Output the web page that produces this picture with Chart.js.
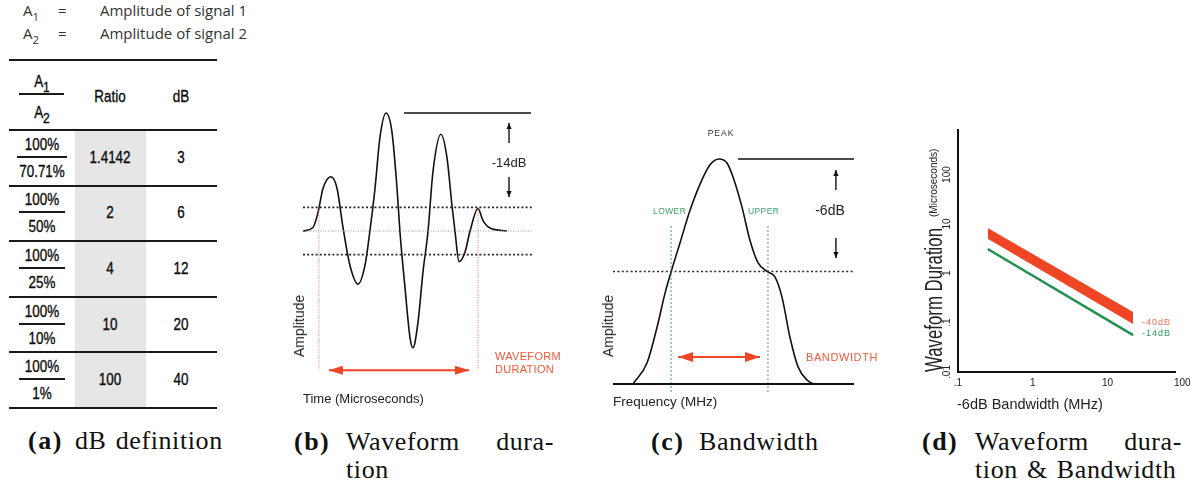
<!DOCTYPE html>
<html>
<head>
<meta charset="utf-8">
<title>dB definition, waveform duration and bandwidth</title>
<script src="https://cdn.jsdelivr.net/npm/chart.js"></script>
<style>
  html, body { margin: 0; padding: 0; background: #fff; }
  #page { position: relative; width: 1199px; height: 486px; overflow: hidden; color: #222;
          font-family: "Liberation Sans", Arial, Helvetica, sans-serif; }
  #page canvas { position: absolute; z-index: 1; }
  .lbl { position: absolute; white-space: nowrap; line-height: 1; z-index: 2; transform: translate(-50%, -50%); }
  .rule { position: absolute; background: #1a1a1a; z-index: 1; }
  .shade { position: absolute; background: #e6e6e6; z-index: 0; }
  .legend { position: absolute; font-family: "Open Sans", sans-serif; font-size: 15px; color: #333;
            line-height: 1; white-space: nowrap; }
  sub { line-height: 0; vertical-align: -5px; font-size: 0.75em; }
  .cap { position: absolute; font-family: "Liberation Serif", "DejaVu Serif", serif; font-size: 26px;
         letter-spacing: 0.6px; word-spacing: 2px; color: #111; line-height: 1; white-space: nowrap; }
  .cap b { display: inline-block; letter-spacing: 1.5px; }
</style>
</head>
<body>
<div id="page">
  <div class="legend" style="left:23px;top:3px">A<sub>1</sub></div>
  <div class="legend" style="left:58px;top:3px">=</div>
  <div class="legend" style="left:100px;top:3px">Amplitude of signal 1</div>
  <div class="legend" style="left:23px;top:26px">A<sub>2</sub></div>
  <div class="legend" style="left:58px;top:26px">=</div>
  <div class="legend" style="left:100px;top:26px">Amplitude of signal 2</div>

  <canvas id="chartB" width="260" height="310" style="left:280px;top:100px;width:260px;height:310px"></canvas>
  <canvas id="chartC" width="290" height="290" style="left:590px;top:120px;width:290px;height:290px"></canvas>
  <canvas id="chartD" width="299" height="300" style="left:900px;top:120px;width:299px;height:300px"></canvas>

  <div class="cap" style="left:28px;top:428px"><b style="width:47px">(a)</b>dB definition</div>
  <div class="cap" style="left:294px;top:429px;width:260px;display:flex;justify-content:space-between">
    <span><b style="width:52px">(b)</b>Waveform</span><span>dura-</span></div>
  <div class="cap" style="left:346px;top:457px">tion</div>
  <div class="cap" style="left:651px;top:429px"><b style="width:48px">(c)</b>Bandwidth</div>
  <div class="cap" style="left:922px;top:429px;width:260px;display:flex;justify-content:space-between">
    <span><b style="width:53px">(d)</b>Waveform</span><span>dura-</span></div>
  <div class="cap" style="left:975px;top:457px">tion &amp; Bandwidth</div>
</div>

<script>
// (a) dB table
const dbNumerators = ["100%", "100%", "100%", "100%", "100%"];
const dbDenominators = ["70.71%", "50%", "25%", "10%", "1%"];
const dbRatios = ["1.4142", "2", "4", "10", "100"];
const dbValues = ["3", "6", "12", "20", "40"];

// (b) waveform, time in microseconds (relative), amplitude relative to the peak
const waveTime = [0, 0.49, 0.74, 0.98, 1.37, 1.67, 1.96, 2.30, 2.70, 3.04, 3.28, 3.53, 3.77, 4.07,
                  4.36, 4.61, 4.75, 5.00, 5.25, 5.39, 5.64, 5.88, 6.13, 6.37, 6.76, 7.06, 7.30, 7.45,
                  7.65, 7.94, 8.19, 8.58, 8.82, 9.17, 10];
const waveAmplitude = [0, 0.03, 0.16, 0.36, 0.46, 0.36, 0.03, -0.29, -0.45, -0.29, 0, 0.36, 0.79, 1.0,
                       0.84, 0.36, 0, -0.48, -0.91, -0.99, -0.77, -0.35, 0, 0.5, 0.82, 0.62, 0.22, 0,
                       -0.26, -0.18, 0, 0.19, 0.09, 0.025, 0];
const waveDbLevel = 0.2;               // -14 dB below the peak
const waveDurationBounds = [0.78, 8.58];

// (c) spectrum, frequency in MHz (relative), amplitude relative to the peak
const spectrumFreq = [0.83, 1.41, 1.83, 2.16, 2.41, 2.78, 3.20, 3.63, 4.02, 4.40, 4.73, 4.98, 5.35,
                      5.68, 6.02, 6.43, 6.72, 7.01, 7.34, 7.68, 8.05, 8.30];
const spectrumAmp = [0, 0.093, 0.253, 0.404, 0.498, 0.627, 0.773, 0.893, 0.973, 1.0, 0.982, 0.92, 0.787,
                     0.64, 0.538, 0.498, 0.476, 0.387, 0.209, 0.076, 0.018, 0];
const spectrumDbLevel = 0.5;           // -6 dB below the peak
const spectrumBandEdges = [2.41, 6.43];

// (d) waveform duration vs -6dB bandwidth
const bandwidthMHz = [0.25, 22];
const duration40dbUpper = [8.3, 0.165];
const duration40dbLower = [5.0, 0.094];
const duration14db = [3.1, 0.056];
const xTickValues = [0.1, 1, 10, 100];
const yTickValues = [0.01, 0.1, 1, 10, 100];

const RED = '#ee4524';
const GREEN = '#1f9150';

const page = document.getElementById('page');
function add(cls, css, html) {
  const el = document.createElement('div');
  el.className = cls;
  Object.assign(el.style, css);
  if (html != null) el.innerHTML = html;
  page.appendChild(el);
  return el;
}
function rule(x1, x2, y, w) {
  add('rule', { left: x1 + 'px', top: (y - w / 2) + 'px', width: (x2 - x1) + 'px', height: w + 'px' });
}
function text(str, cx, cy, css) {
  return add('lbl', Object.assign({ left: cx + 'px', top: cy + 'px' }, css || {}), str);
}

// ---- table (a)
const cellFont = { fontSize: '16px', color: '#0d0d0d', webkitTextStroke: '0.35px #0d0d0d',
                   transform: 'translate(-50%,-50%) scaleX(0.84)' };
const rowEdges = [130, 185.6, 241.2, 296.8, 352.4, 408];
add('shade', { left: '75px', top: '130px', width: '71px', height: '278px' });
rule(9, 217, 60, 2);
rule(9, 217, 130, 2);
text('A<sub style="font-size:0.9em">1</sub>', 42, 82, cellFont);
rule(19, 64, 94, 2);
text('A<sub style="font-size:0.9em">2</sub>', 42, 113, cellFont);
text('Ratio', 110, 97, cellFont);
text('dB', 181, 97, cellFont);
dbRatios.forEach((r, i) => {
  const c = (rowEdges[i] + rowEdges[i + 1]) / 2;
  const half = dbDenominators[i].length > 4 ? 25 : 23;
  text(dbNumerators[i], 42, c - 13, cellFont);
  rule(42 - half, 42 + half, c - 1, 2);
  text(dbDenominators[i], 42, c + 14, cellFont);
  text(r, 110, c, cellFont);
  text(dbValues[i], 181, c, cellFont);
  rule(9, 217, rowEdges[i + 1], 2);
});

// ---- labels of (b) and (c)
const redLbl = { color: '#f0583a', fontSize: '11px', letterSpacing: '0.3px', transform: 'translate(0,-50%)' };
text('-14dB', 509, 162, { fontSize: '13px' });
text('Amplitude', 299, 326, { fontSize: '14px', transform: 'translate(-50%,-50%) rotate(-90deg)' });
text('Time (Microseconds)', 303, 398, { fontSize: '13px', transform: 'translate(0,-50%)' });
text('WAVEFORM', 495, 356, redLbl);
text('DURATION', 495, 369, redLbl);

const greenLbl = { color: '#3a9f6a', fontSize: '8.5px', letterSpacing: '0.4px', transform: 'translate(0,-50%)' };
text('PEAK', 721, 133, { fontSize: '8.5px', letterSpacing: '1px', color: '#333' });
text('LOWER', 653, 211, greenLbl);
text('UPPER', 748, 211, greenLbl);
text('-6dB', 830, 210, { fontSize: '14px' });
text('BANDWIDTH', 806, 357, Object.assign({}, redLbl, { letterSpacing: '0.6px' }));
text('Amplitude', 608, 326, { fontSize: '14px', transform: 'translate(-50%,-50%) rotate(-90deg)' });
text('Frequency (MHz)', 613, 402, { fontSize: '13.5px', transform: 'translate(0,-50%)' });

// ---- chart helpers
const pts = (xs, ys) => xs.map((v, i) => ({ x: v, y: ys[i] }));
const seg = (x1, y1, x2, y2) => [{ x: x1, y: y1 }, { x: x2, y: y2 }];

function head(ctx, x, y, ux, uy, len, half, color) {
  ctx.fillStyle = color;
  ctx.beginPath();
  ctx.moveTo(x, y);
  ctx.lineTo(x - ux * len - uy * half, y - uy * len + ux * half);
  ctx.lineTo(x - ux * len + uy * half, y - uy * len - ux * half);
  ctx.closePath();
  ctx.fill();
}

function arrowHeads(items) {
  return {
    id: 'arrowHeads',
    afterDatasetsDraw(chart) {
      const { ctx, scales: { x, y } } = chart;
      ctx.save();
      items.forEach(a => {
        const x1 = x.getPixelForValue(a.from[0]), y1 = y.getPixelForValue(a.from[1]);
        const x2 = x.getPixelForValue(a.to[0]), y2 = y.getPixelForValue(a.to[1]);
        const d = Math.hypot(x2 - x1, y2 - y1);
        const ux = (x2 - x1) / d, uy = (y2 - y1) / d;
        head(ctx, x2, y2, ux, uy, a.len, a.half, a.color);
        if (a.both) head(ctx, x1, y1, -ux, -uy, a.len, a.half, a.color);
      });
      ctx.restore();
    }
  };
}

function plainOptions(xr, yr) {
  return {
    responsive: false,
    animation: false,
    events: [],
    layout: { padding: 0 },
    plugins: { legend: { display: false }, tooltip: { enabled: false } },
    elements: { point: { radius: 0 }, line: { tension: 0, fill: false, borderCapStyle: 'butt' } },
    scales: {
      x: { type: 'linear', min: xr[0], max: xr[1], display: false },
      y: { type: 'linear', min: yr[0], max: yr[1], display: false }
    }
  };
}

// ---- (b) waveform duration
const waveAxisEnd = 11.27;
const waveArrowLevel = -1.18;
const dbArrowX = 10.1;
new Chart(document.getElementById('chartB'), {
  type: 'line',
  data: {
    datasets: [
      { data: seg(0, 0, waveAxisEnd, 0), borderColor: '#9a9a9a', borderWidth: 1, borderDash: [1, 1.5] },
      { data: seg(0, waveDbLevel, waveAxisEnd, waveDbLevel), borderColor: '#2a2a2a', borderWidth: 1.6, borderDash: [2, 2.2] },
      { data: seg(0, -waveDbLevel, waveAxisEnd, -waveDbLevel), borderColor: '#2a2a2a', borderWidth: 1.6, borderDash: [2, 2.2] },
      { data: seg(4.95, 1, 11.18, 1), borderColor: '#111', borderWidth: 1.6 },
      { data: seg(waveDurationBounds[0], waveDbLevel, waveDurationBounds[0], waveArrowLevel), borderColor: '#f06a50', borderWidth: 1, borderDash: [1, 1.5] },
      { data: seg(waveDurationBounds[1], waveDbLevel, waveDurationBounds[1], waveArrowLevel), borderColor: '#f06a50', borderWidth: 1, borderDash: [1, 1.5] },
      { data: seg(1.27, waveArrowLevel, 8.14, waveArrowLevel), borderColor: RED, borderWidth: 2 },
      { data: seg(dbArrowX, 0.746, dbArrowX, 0.915), borderColor: '#111', borderWidth: 1.4 },
      { data: seg(dbArrowX, 0.458, dbArrowX, 0.288), borderColor: '#111', borderWidth: 1.4 },
      { data: pts(waveTime, waveAmplitude), borderColor: '#111', borderWidth: 1.6, cubicInterpolationMode: 'monotone' }
    ]
  },
  options: plainOptions([-1.127, 11.618], [-1.517, 1.110]),
  plugins: [arrowHeads([
    { from: [1.27, waveArrowLevel], to: [8.14, waveArrowLevel], both: true, len: 14, half: 4.5, color: RED },
    { from: [dbArrowX, 0.746], to: [dbArrowX, 0.915], len: 6, half: 2.6, color: '#111' },
    { from: [dbArrowX, 0.458], to: [dbArrowX, 0.288], len: 6, half: 2.6, color: '#111' }
  ])]
});

// ---- (c) bandwidth
const freqAxisEnd = 10;
const bandArrowLevel = 0.12;
const dbArrowF = 9.25;
new Chart(document.getElementById('chartC'), {
  type: 'line',
  data: {
    datasets: [
      { data: seg(0, 0, freqAxisEnd, 0), borderColor: '#111', borderWidth: 2 },
      { data: seg(0, spectrumDbLevel, 9.96, spectrumDbLevel), borderColor: '#2a2a2a', borderWidth: 1.6, borderDash: [2, 2.4] },
      { data: seg(5.19, 1, freqAxisEnd, 1), borderColor: '#111', borderWidth: 1.6 },
      { data: seg(spectrumBandEdges[0], 0.702, spectrumBandEdges[0], -0.036), borderColor: '#3aa56a', borderWidth: 1, borderDash: [2, 2] },
      { data: seg(spectrumBandEdges[1], 0.702, spectrumBandEdges[1], -0.036), borderColor: '#3aa56a', borderWidth: 1, borderDash: [2, 2] },
      { data: seg(2.7, bandArrowLevel, 6.1, bandArrowLevel), borderColor: RED, borderWidth: 2 },
      { data: seg(dbArrowF, 0.862, dbArrowF, 0.951), borderColor: '#111', borderWidth: 1.4 },
      { data: seg(dbArrowF, 0.649, dbArrowF, 0.56), borderColor: '#111', borderWidth: 1.4 },
      { data: pts(spectrumFreq, spectrumAmp), borderColor: '#111', borderWidth: 1.6, cubicInterpolationMode: 'monotone' }
    ]
  },
  options: plainOptions([-0.954, 11.079], [-0.1156, 1.1733]),
  plugins: [arrowHeads([
    { from: [2.7, bandArrowLevel], to: [6.1, bandArrowLevel], both: true, len: 15, half: 5, color: RED },
    { from: [dbArrowF, 0.862], to: [dbArrowF, 0.951], len: 6, half: 2.6, color: '#111' },
    { from: [dbArrowF, 0.649], to: [dbArrowF, 0.56], len: 6, half: 2.6, color: '#111' }
  ])]
});

// ---- (d) waveform duration & bandwidth
const tickLabel = v => String(v).replace(/^0\./, '.');
const durationLabels = {
  id: 'durationLabels',
  afterDraw(chart) {
    const { ctx, chartArea, scales: { x, y } } = chart;
    ctx.save();
    ctx.fillStyle = '#222';
    ctx.textBaseline = 'middle';
    ctx.textAlign = 'center';
    ctx.font = '10px "Liberation Sans", Arial, sans-serif';
    xTickValues.forEach(v => ctx.fillText(tickLabel(v), x.getPixelForValue(v), chartArea.bottom + 11));
    yTickValues.forEach(v => {
      ctx.save();
      ctx.translate(chartArea.left - 10.5, y.getPixelForValue(v));
      ctx.rotate(-Math.PI / 2);
      ctx.fillText(tickLabel(v), 0, 0);
      ctx.restore();
    });

    ctx.textAlign = 'left';
    ctx.font = '14.5px "Liberation Sans", Arial, sans-serif';
    ctx.fillText('-6dB Bandwidth (MHz)', chartArea.left - 1, chartArea.bottom + 33);

    ctx.textBaseline = 'alphabetic';
    ctx.font = '23px "Liberation Sans", Arial, sans-serif';
    const squeeze = 0.73;
    const bigW = ctx.measureText('Waveform Duration').width * squeeze;
    ctx.save();
    ctx.translate(chartArea.left - 16.5, chartArea.bottom);
    ctx.rotate(-Math.PI / 2);
    ctx.scale(squeeze, 1);
    ctx.fillText('Waveform Duration', 0, 0);
    ctx.restore();
    ctx.save();
    ctx.font = '10px "Liberation Sans", Arial, sans-serif';
    ctx.translate(chartArea.left - 21, chartArea.bottom - bigW - 11);
    ctx.rotate(-Math.PI / 2);
    ctx.fillText('(Microseconds)', 0, 0);
    ctx.restore();

    const last = bandwidthMHz.length - 1;
    const lx = x.getPixelForValue(bandwidthMHz[last]) + 9;
    ctx.textBaseline = 'middle';
    ctx.font = '9px "Liberation Sans", Arial, sans-serif';
    if ('letterSpacing' in ctx) ctx.letterSpacing = '1px';
    ctx.fillStyle = '#f26a4f';
    ctx.fillText('-40dB', lx, y.getPixelForValue(duration40dbLower[last]) - 1.5);
    ctx.fillStyle = '#2a9a5a';
    ctx.fillText('-14dB', lx, y.getPixelForValue(duration14db[last]) - 1.5);
    ctx.restore();
  }
};

const hiddenAxis = (min, max) => ({
  type: 'logarithmic', min: min, max: max,
  grid: { display: false, drawTicks: false, tickLength: 0 },
  ticks: { display: false },
  border: { display: true, color: '#111', width: 2 }
});

new Chart(document.getElementById('chartD'), {
  type: 'line',
  data: {
    datasets: [
      { label: '-40dB', data: pts(bandwidthMHz, duration40dbUpper), borderWidth: 0, borderColor: 'rgba(0,0,0,0)',
        backgroundColor: RED, fill: '+1' },
      { label: '-40dB lower', data: pts(bandwidthMHz, duration40dbLower), borderWidth: 0, borderColor: 'rgba(0,0,0,0)', fill: false },
      { label: '-14dB', data: pts(bandwidthMHz, duration14db), borderColor: GREEN, borderWidth: 2.5, fill: false }
    ]
  },
  options: {
    responsive: false,
    animation: false,
    events: [],
    layout: { padding: { left: 58, right: 24, top: 10, bottom: 48 } },
    plugins: { legend: { display: false }, tooltip: { enabled: false } },
    elements: { point: { radius: 0 }, line: { tension: 0 } },
    scales: { x: hiddenAxis(0.1, 80), y: hiddenAxis(0.01, 800) }
  },
  plugins: [durationLabels]
});
</script>
</body>
</html>
